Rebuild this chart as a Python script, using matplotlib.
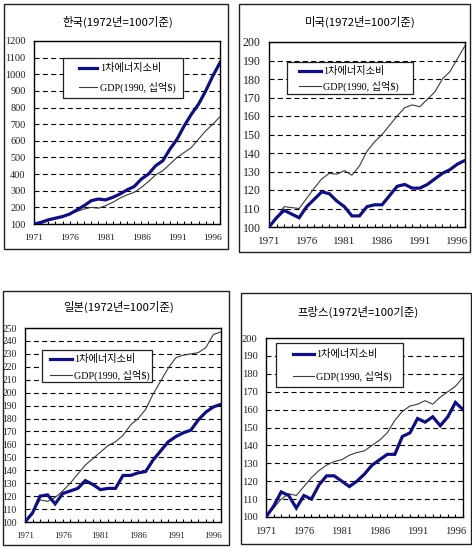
import matplotlib
matplotlib.use("Agg")
import matplotlib.pyplot as plt
from matplotlib.patches import Rectangle
from matplotlib.lines import Line2D
from matplotlib.ticker import MultipleLocator, FixedLocator

plt.rcParams['font.family'] = ['Liberation Serif', 'Noto Sans CJK KR', 'DejaVu Sans']

years = list(range(1971, 1998))
xtick_years = [1971, 1976, 1981, 1986, 1991, 1996]

kor_energy = [100, 110, 125, 135, 145, 160, 185, 210, 240, 250, 245, 260, 280, 305, 325,
              370, 400, 450, 480, 550, 610, 690, 760, 820, 900, 990, 1070]
kor_gdp = [100, 105, 120, 135, 145, 160, 175, 190, 200, 195, 210, 230, 255, 275, 290,
           320, 355, 395, 420, 460, 500, 530, 560, 610, 660, 700, 745]

usa_energy = [100, 105, 109, 107, 105, 111, 115, 119, 118, 114, 111, 106, 106, 111, 112,
              112, 117, 122, 123, 121, 121, 123, 126, 129, 131, 134, 136]
usa_gdp = [100, 105, 111, 110.5, 110, 115.5, 121, 126, 129, 128.5, 130.5, 128, 133, 141, 146,
           150, 155, 160, 164.5, 166, 165, 169, 173, 180, 184, 191, 198]

jpn_energy = [100, 107, 120, 121, 114, 122, 124, 126, 132, 129, 125, 126, 126, 136, 136,
              138, 139, 148, 155, 162, 166, 169, 171, 179, 185, 189, 191]
jpn_gdp = [100, 108, 117, 116, 119, 124, 130, 137, 144, 149, 154, 159, 162, 167, 175,
           180, 187, 199, 209, 219, 227, 229, 230, 231, 235, 245, 247]

fra_energy = [100, 106, 114, 112, 105, 112, 110, 118, 123, 123, 120, 117, 120, 124, 129,
              132, 135, 135, 145, 147, 155, 153, 156, 151, 156, 164, 160]
fra_gdp = [100, 105, 110, 113, 112, 117, 122, 126, 129, 131, 132, 134.5, 136, 137, 140,
           143, 147, 154, 159, 162, 163, 165, 163, 167, 170, 173, 178]

titles = ['한국(1972년=100기준)', '미국(1972년=100기준)', '일본(1972년=100기준)', '프랑스(1972년=100기준)']
legend_labels = ['1차에너지소비', 'GDP(1990, 십억$)']

W, H = 472, 549
fig = plt.figure(figsize=(W / 100, H / 100), dpi=100)
fig.patch.set_facecolor('white')

def fx(x):
    return x / W

def fy(y):
    return 1 - y / H

ENERGY_COLOR = '#10107a'
GDP_COLOR = '#3a3a3a'

panels = [
    dict(energy=kor_energy, gdp=kor_gdp, title=titles[0],
         ax=(34, 41, 220, 224), border=(4, 4, 228, 249), ylim=(100, 1200), ystep=100,
         ytfs=7.4, xtfs=6.8, title_xy=(118, 22),
         leg_box=(63, 58, 183, 98), leg_h=(79, 97), leg_tx=100, leg_rows=(68, 87)),
    dict(energy=usa_energy, gdp=usa_gdp, title=titles[1],
         ax=(269, 42, 465, 227), border=(239, 4, 470, 252), ylim=(100, 200), ystep=10,
         ytfs=8.6, xtfs=8.0, title_xy=(360, 22),
         leg_box=(287, 62, 413, 94), leg_h=(299, 321), leg_tx=323, leg_rows=(71, 86)),
    dict(energy=jpn_energy, gdp=jpn_gdp, title=titles[2],
         ax=(25, 328, 221, 522), border=(3, 291, 229, 545), ylim=(100, 250), ystep=10,
         ytfs=6.9, xtfs=6.4, title_xy=(119, 307),
         leg_box=(42, 350, 152, 382), leg_h=(50, 72), leg_tx=74, leg_rows=(359, 375)),
    dict(energy=fra_energy, gdp=fra_gdp, title=titles[3],
         ax=(266, 338, 463, 517), border=(241, 293, 471, 544), ylim=(100, 200), ystep=10,
         ytfs=7.6, xtfs=7.6, title_xy=(358, 312),
         leg_box=(276, 343, 403, 387), leg_h=(293, 314), leg_tx=316, leg_rows=(354, 376)),
]

for p in panels:
    bx0, by0, bx1, by1 = p['border']
    fig.add_artist(Rectangle((fx(bx0), fy(by1)), fx(bx1) - fx(bx0), fy(by0) - fy(by1),
                             transform=fig.transFigure, facecolor='none',
                             edgecolor='#202020', linewidth=1.0, zorder=0))
    x0, y0, x1, y1 = p['ax']
    ax = fig.add_axes([fx(x0), fy(y1), fx(x1) - fx(x0), fy(y0) - fy(y1)])
    ax.plot(years, p['gdp'], color=GDP_COLOR, linewidth=0.8, zorder=3)
    ax.plot(years, p['energy'], color=ENERGY_COLOR, linewidth=2.3, zorder=4,
            solid_joinstyle='miter')
    ax.set_xlim(1971, 1997)
    ax.set_ylim(*p['ylim'])
    ax.yaxis.set_major_locator(MultipleLocator(p['ystep']))
    ax.xaxis.set_major_locator(FixedLocator(xtick_years))
    ax.xaxis.set_minor_locator(MultipleLocator(1))
    ax.yaxis.grid(True, color='black', linestyle=(0, (4.5, 3)), linewidth=0.8)
    ax.set_axisbelow(True)
    ax.tick_params(axis='y', length=0, pad=6, labelsize=p['ytfs'], labelcolor='#202020')
    ax.tick_params(axis='x', which='both', direction='in', length=2.5, width=0.8,
                   pad=7, labelsize=p['xtfs'], labelcolor='#202020')
    for s in ax.spines.values():
        s.set_color('black')
        s.set_linewidth(1.0)
    fig.text(fx(p['title_xy'][0]), fy(p['title_xy'][1]), p['title'],
             ha='center', va='center', fontsize=8.2,
             family=['Noto Sans CJK KR', 'DejaVu Sans'])
    # legend
    lx0, ly0, lx1, ly1 = p['leg_box']
    fig.add_artist(Rectangle((fx(lx0), fy(ly1)), fx(lx1) - fx(lx0), fy(ly0) - fy(ly1),
                             transform=fig.transFigure, facecolor='white',
                             edgecolor='#202020', linewidth=0.9, zorder=5))
    hx0, hx1 = p['leg_h']
    for label, row, col, lw in zip(legend_labels, p['leg_rows'],
                                   [ENERGY_COLOR, GDP_COLOR], [2.3, 0.8]):
        fig.add_artist(Line2D([fx(hx0), fx(hx1)], [fy(row), fy(row)],
                              transform=fig.transFigure, color=col, linewidth=lw,
                              zorder=6))
        fig.text(fx(p['leg_tx']), fy(row), label, ha='left', va='center',
                 fontsize=7.3, zorder=7,
                 family=['Liberation Serif', 'Noto Sans CJK KR', 'DejaVu Sans'])

fig.savefig('out.png', dpi=100, facecolor='white')
